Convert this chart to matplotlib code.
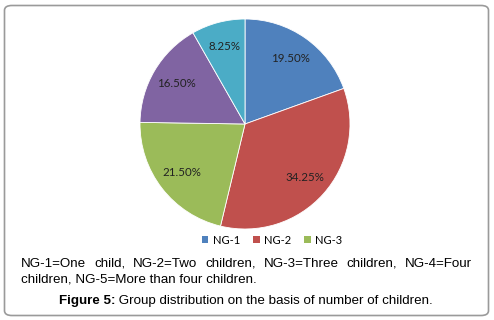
import matplotlib
matplotlib.use("AGG")
import matplotlib.pyplot as plt
from matplotlib.patches import FancyBboxPatch, Patch

# data
groups = ["NG-1", "NG-2", "NG-3", "NG-4", "NG-5"]
shares = [19.50, 34.25, 21.50, 16.50, 8.25]
colors = ["#4F81BD", "#C0504D", "#9BBB59", "#8064A2", "#4BACC6"]
legend_groups = ["NG-1", "NG-2", "NG-3"]

note_line1 = "NG-1=One child, NG-2=Two children, NG-3=Three children, NG-4=Four".split(" ")
note_line2 = "children, NG-5=More than four children."
cap_bold = "Figure 5:"
cap_rest = " Group distribution on the basis of number of children."

W, H = 494, 320
fig = plt.figure(figsize=(W / 100, H / 100), dpi=100)

# rounded frame, kept behind everything
frame = FancyBboxPatch((4.5 / W, 4.5 / H), 484 / W, 310 / H,
                       boxstyle="round,pad=0,rounding_size=0.015",
                       transform=fig.transFigure, facecolor="white",
                       edgecolor="#9a9a9a", linewidth=1.2, zorder=-10)
fig.patches.append(frame)

# pie, centre (245,124), radius ~105 px
r = 105
ax = fig.add_axes([(245 - r) / W, (H - 124 - r) / H, 2 * r / W, 2 * r / H])
ax.set_zorder(5)
wedges, texts = ax.pie(shares, colors=colors, startangle=90, counterclock=False,
                       labels=["%.2f%%" % s for s in shares], labeldistance=0.76,
                       wedgeprops=dict(edgecolor="white", linewidth=0.6),
                       textprops=dict(fontsize=8.3, family="Lato", color="#222222"))
for t in texts:
    t.set_ha("center")
    t.set_va("center")
ax.set_xlim(-1, 1)
ax.set_ylim(-1, 1)
ax.set_aspect("equal")

handles = [Patch(facecolor=colors[groups.index(g)], edgecolor="none") for g in legend_groups]
fig.legend(handles, legend_groups, loc="center", bbox_to_anchor=(272 / W, 1 - 240 / H),
           ncol=3, frameon=False, prop=dict(family="Lato", size=8),
           handlelength=0.6, handleheight=0.6, handletextpad=0.4, columnspacing=1.15)

# justified note, line 1
fig.canvas.draw()
renderer = fig.canvas.get_renderer()
fs = 9.6
x0, x1 = 21, 472
y1 = 1 - 264 / H
words = [fig.text(0, y1, w, fontsize=fs, family="Liberation Sans", va="center") for w in note_line1]
widths = [w.get_window_extent(renderer).width for w in words]
gap = (x1 - x0 - sum(widths)) / (len(words) - 1)
x = x0
for w, wd in zip(words, widths):
    w.set_x(x / W)
    x += wd + gap

fig.text(x0 / W, 1 - 280 / H, note_line2, fontsize=fs, family="Liberation Sans", va="center")

# caption
yc = 1 - 301 / H
tb = fig.text(0, yc, cap_bold, fontsize=fs, family="Liberation Sans", weight="bold", va="center")
tr = fig.text(0, yc, cap_rest, fontsize=fs, family="Liberation Sans", va="center")
wb = tb.get_window_extent(renderer).width
wr = tr.get_window_extent(renderer).width
start = 246 - (wb + wr) / 2
tb.set_x(start / W)
tr.set_x((start + wb) / W)

fig.savefig("out.png", dpi=100)
